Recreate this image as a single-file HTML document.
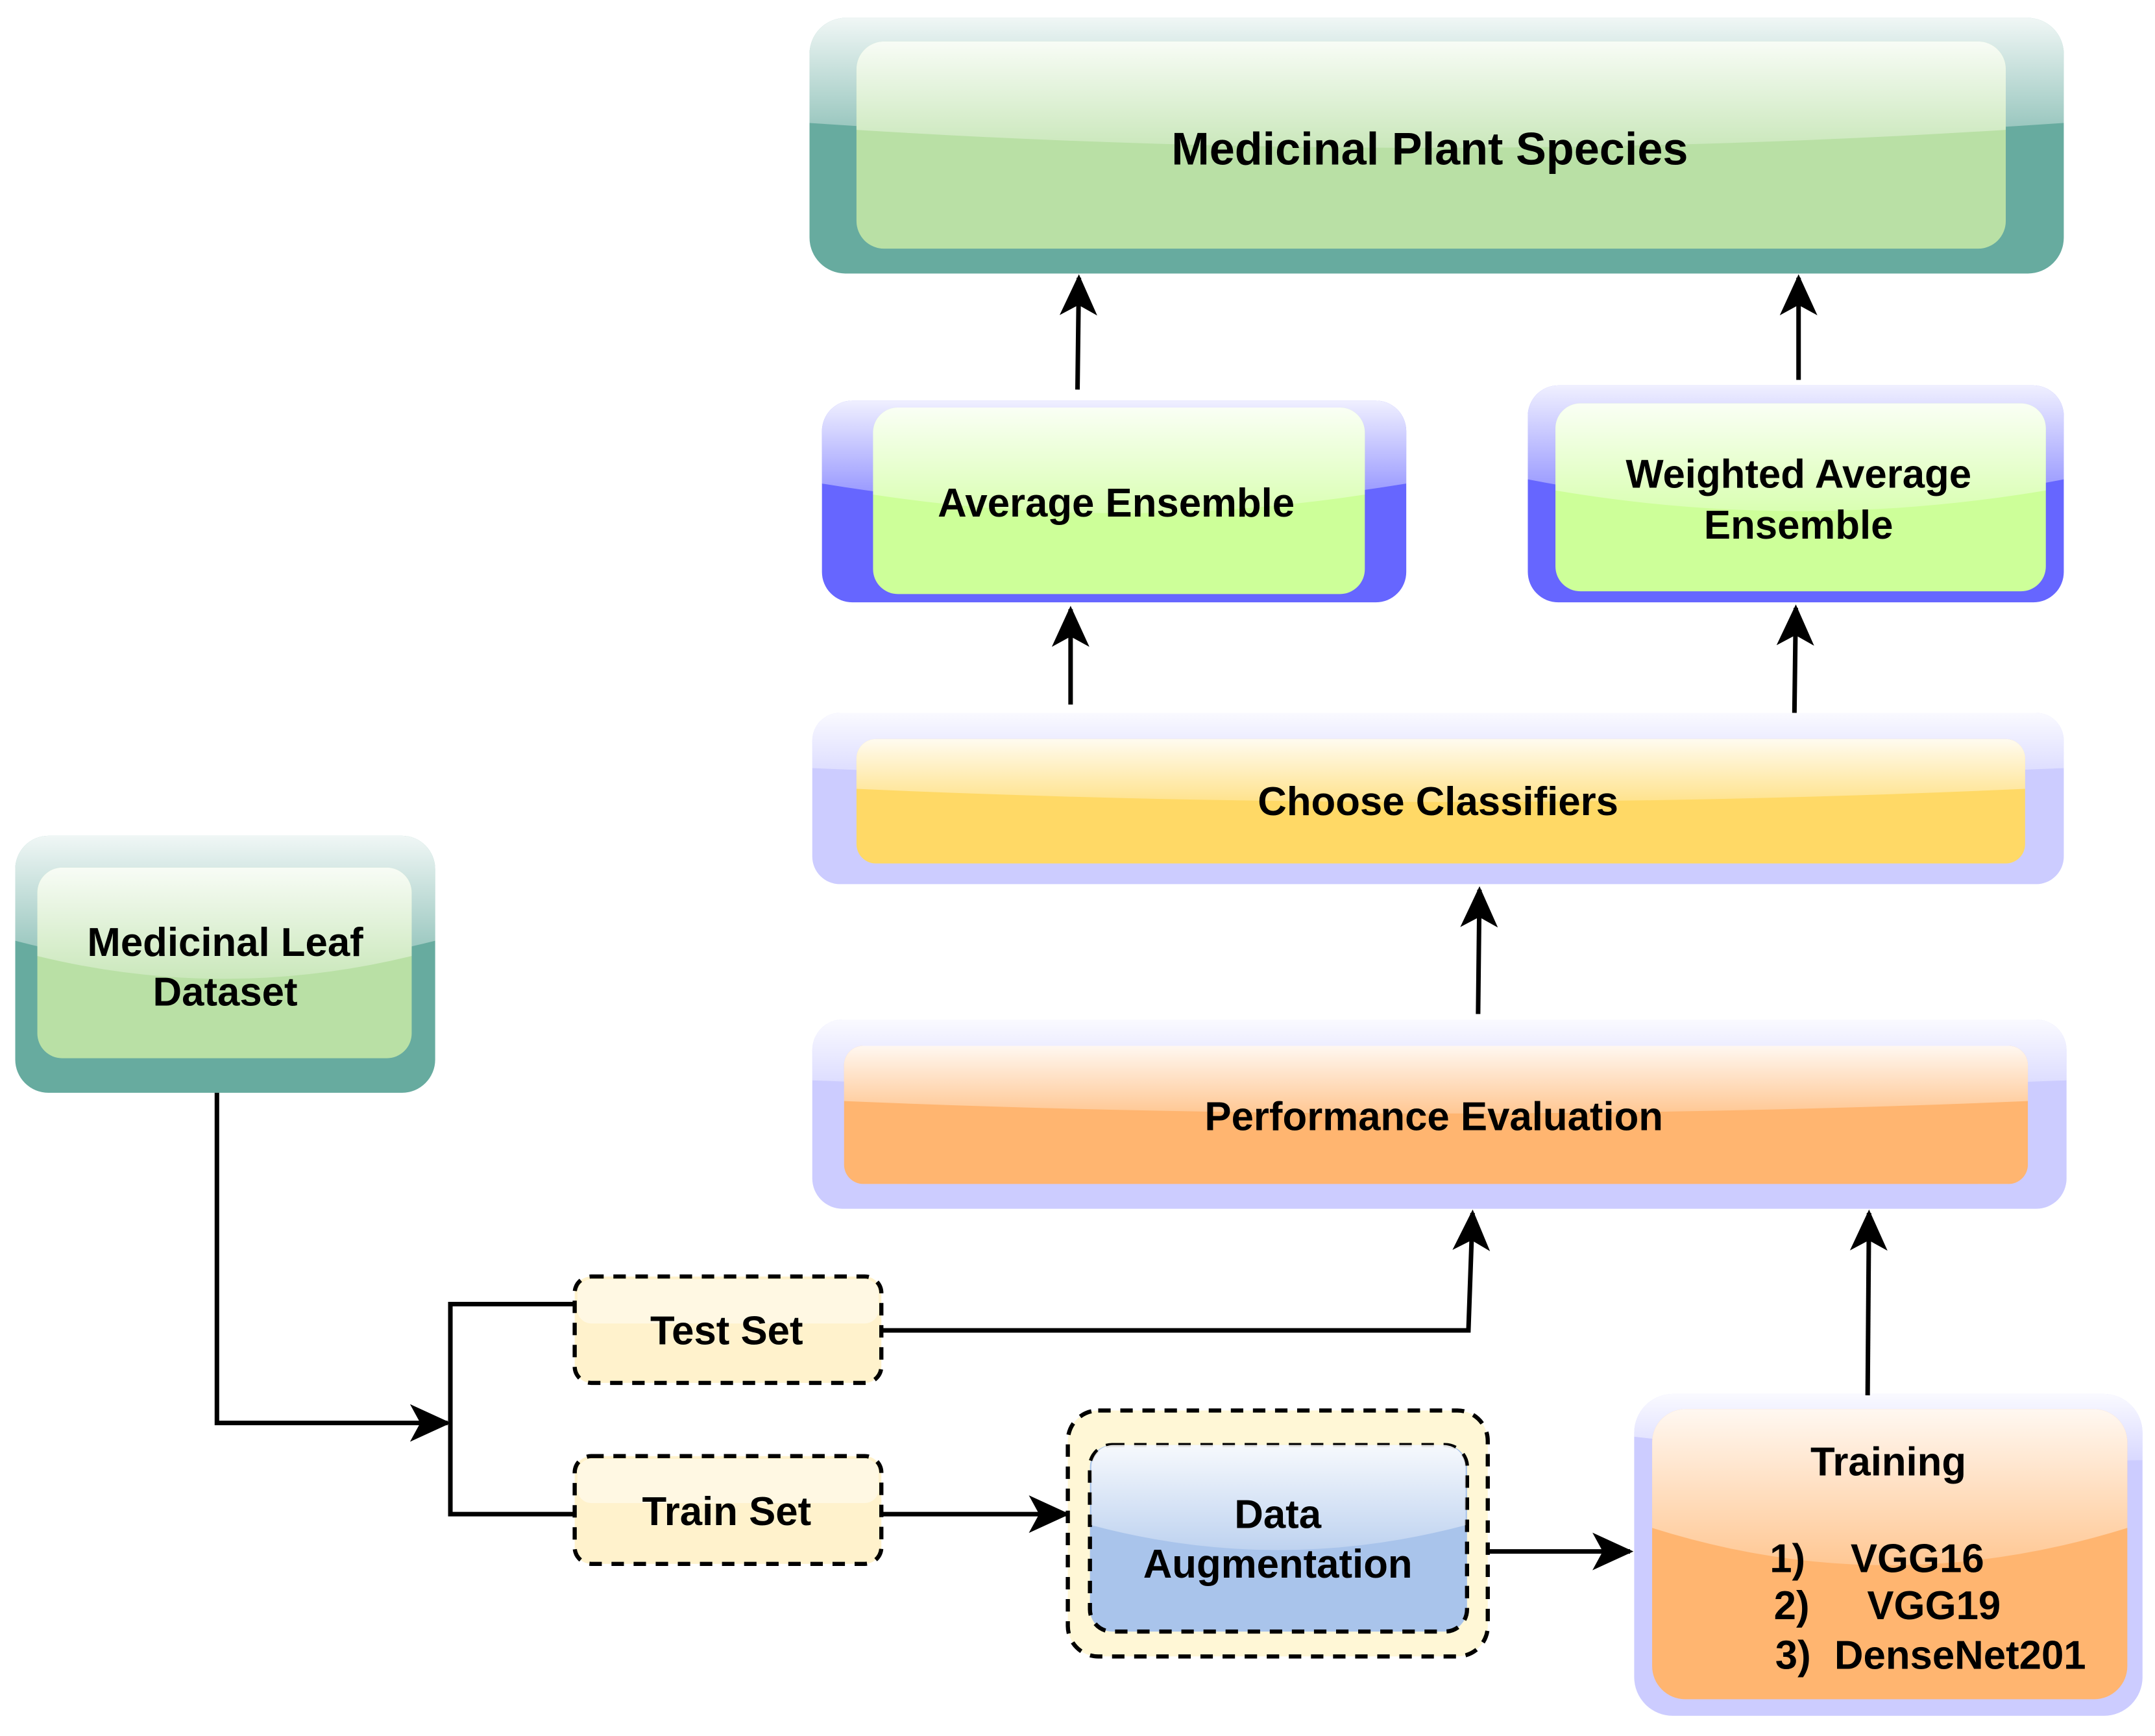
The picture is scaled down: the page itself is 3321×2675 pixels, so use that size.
<!DOCTYPE html>
<html><head><meta charset="utf-8"><style>html,body{margin:0;padding:0;background:#fff}svg{display:block}</style></head>
<body>
<svg width="3321" height="2675" viewBox="0 0 1560 1256.6" xmlns="http://www.w3.org/2000/svg" font-family="Liberation Sans, Arial, sans-serif" font-weight="bold" text-anchor="middle">
<defs>
<linearGradient id="g" x1="0" y1="0" x2="0" y2="1">
<stop offset="0" stop-color="#fff" stop-opacity="0.9"/>
<stop offset="1" stop-color="#fff" stop-opacity="0.25"/>
</linearGradient>
<marker id="a" viewBox="0 0 24 24" refX="22" refY="12" markerWidth="9" markerHeight="9" markerUnits="strokeWidth" orient="auto">
<path d="M0,1 L24,12 L0,23 L6,12 Z" fill="#000"/>
</marker>
</defs>

<rect x="586" y="13" width="908" height="185" rx="26" fill="#67ab9f"/>
<path d="M586,39 a26,26 0 0 1 26,-26 h856 a26,26 0 0 1 26,26 v50 Q1040,120 586,89 Z" fill="url(#g)"/>
<rect x="620" y="30" width="832" height="150" rx="20" fill="#b9e0a5"/>
<path d="M620,50 a20,20 0 0 1 20,-20 h792 a20,20 0 0 1 20,20 v44 Q1036,120 620,94 Z" fill="url(#g)"/>
<text x="1035" y="119" font-size="33">Medicinal Plant Species</text>

<rect x="595" y="290" width="423" height="146" rx="22" fill="#6666ff"/>
<path d="M595,312 a22,22 0 0 1 22,-22 h379 a22,22 0 0 1 22,22 v38 Q806,385 595,350 Z" fill="url(#g)"/>
<rect x="632" y="295" width="356" height="135" rx="18" fill="#cdff99"/>
<path d="M632,313 a18,18 0 0 1 18,-18 h320 a18,18 0 0 1 18,18 v45 Q810,385 632,358 Z" fill="url(#g)"/>
<text x="808" y="374" font-size="29">Average Ensemble</text>

<rect x="1106" y="279" width="388" height="157" rx="22" fill="#6666ff"/>
<path d="M1106,301 a22,22 0 0 1 22,-22 h344 a22,22 0 0 1 22,22 v46 Q1300,385 1106,347 Z" fill="url(#g)"/>
<rect x="1126" y="292" width="355" height="136" rx="18" fill="#cdff99"/>
<path d="M1126,310 a18,18 0 0 1 18,-18 h319 a18,18 0 0 1 18,18 v45 Q1303,385 1126,355 Z" fill="url(#g)"/>
<text x="1302" y="353" font-size="29">Weighted Average</text>
<text x="1302" y="390" font-size="29">Ensemble</text>

<rect x="588" y="516" width="906" height="124" rx="20" fill="#ccccff"/>
<path d="M588,536 a20,20 0 0 1 20,-20 h866 a20,20 0 0 1 20,20 v20 Q1040,575 588,556 Z" fill="url(#g)"/>
<rect x="620" y="535" width="846" height="90" rx="14" fill="#ffd966"/>
<path d="M620,549 a14,14 0 0 1 14,-14 h818 a14,14 0 0 1 14,14 v22 Q1043,590 620,571 Z" fill="url(#g)"/>
<text x="1041" y="590" font-size="29">Choose Classifiers</text>

<rect x="588" y="738" width="908" height="137" rx="22" fill="#ccccff"/>
<path d="M588,760 a22,22 0 0 1 22,-22 h864 a22,22 0 0 1 22,22 v22 Q1040,800 588,782 Z" fill="url(#g)"/>
<rect x="611" y="757" width="857" height="100" rx="14" fill="#ffb570"/>
<path d="M611,771 a14,14 0 0 1 14,-14 h829 a14,14 0 0 1 14,14 v26 Q1040,815 611,797 Z" fill="url(#g)"/>
<text x="1038" y="818" font-size="29">Performance Evaluation</text>

<rect x="11" y="605" width="304" height="186" rx="24" fill="#67ab9f"/>
<path d="M11,629 a24,24 0 0 1 24,-24 h256 a24,24 0 0 1 24,24 v52 Q160,720 11,681 Z" fill="url(#g)"/>
<rect x="27" y="628" width="271" height="138" rx="18" fill="#b9e0a5"/>
<path d="M27,646 a18,18 0 0 1 18,-18 h235 a18,18 0 0 1 18,18 v46 Q162,725 27,692 Z" fill="url(#g)"/>
<text x="163" y="692" font-size="29">Medicinal Leaf</text>
<text x="163" y="728" font-size="29">Dataset</text>

<rect x="416" y="924" width="222" height="77" rx="12" fill="#fff2cc" stroke="#000" stroke-width="3" stroke-dasharray="9,7"/>
<rect x="418" y="926" width="218" height="32" rx="10" fill="#fff" opacity="0.45"/>
<text x="526" y="973" font-size="29">Test Set</text>

<rect x="416" y="1054" width="222" height="78" rx="12" fill="#fff2cc" stroke="#000" stroke-width="3" stroke-dasharray="9,7"/>
<rect x="418" y="1056" width="218" height="32" rx="10" fill="#fff" opacity="0.45"/>
<text x="526" y="1104" font-size="29">Train Set</text>

<rect x="773" y="1021" width="304" height="178" rx="22" fill="#fff7d6" stroke="#000" stroke-width="3" stroke-dasharray="9,7"/>
<rect x="789" y="1046" width="273" height="135" rx="16" fill="#a9c4eb" stroke="#000" stroke-width="3" stroke-dasharray="9,7"/>
<path d="M790,1062 a16,16 0 0 1 16,-16 h239 a16,16 0 0 1 16,16 v42 Q925,1140 790,1104 Z" fill="url(#g)"/>
<text x="925" y="1106" font-size="29">Data</text>
<text x="925" y="1142" font-size="29">Augmentation</text>

<rect x="1183" y="1009" width="368" height="233" rx="28" fill="#ccccff"/>
<path d="M1183,1037 a28,28 0 0 1 28,-28 h312 a28,28 0 0 1 28,28 v20 Q1367,1060 1183,1040 Z" fill="url(#g)"/>
<rect x="1196" y="1020" width="344" height="210" rx="24" fill="#ffb570"/>
<path d="M1196,1044 a24,24 0 0 1 24,-24 h296 a24,24 0 0 1 24,24 v62 Q1367,1160 1196,1106 Z" fill="url(#g)"/>
<text x="1367" y="1068" font-size="29">Training</text>
<text x="1294" y="1138" font-size="29">1)</text>
<text x="1388" y="1138" font-size="29">VGG16</text>
<text x="1297" y="1172" font-size="29">2)</text>
<text x="1400" y="1172" font-size="29">VGG19</text>
<text x="1298" y="1208" font-size="29">3)</text>
<text x="1419" y="1208" font-size="29">DenseNet201</text>

<g fill="none" stroke="#000" stroke-width="3.3">
<path d="M780,282 L781,201" marker-end="url(#a)"/>
<path d="M1302,275 L1302,201" marker-end="url(#a)"/>
<path d="M775,510 L775,441" marker-end="url(#a)"/>
<path d="M1299,516 L1300,440" marker-end="url(#a)"/>
<path d="M1070,734 L1071,644" marker-end="url(#a)"/>
<path d="M638,963 L1063,963 L1066,878" marker-end="url(#a)"/>
<path d="M1352,1010 L1353,878" marker-end="url(#a)"/>
<path d="M157,791 L157,1030 L324,1030" marker-end="url(#a)"/>
<path d="M416,944 L326,944 L326,1096 L416,1096"/>
<path d="M638,1096 L772,1096" marker-end="url(#a)"/>
<path d="M1077,1123 L1180,1123" marker-end="url(#a)"/>
</g>
</svg>
</body></html>
